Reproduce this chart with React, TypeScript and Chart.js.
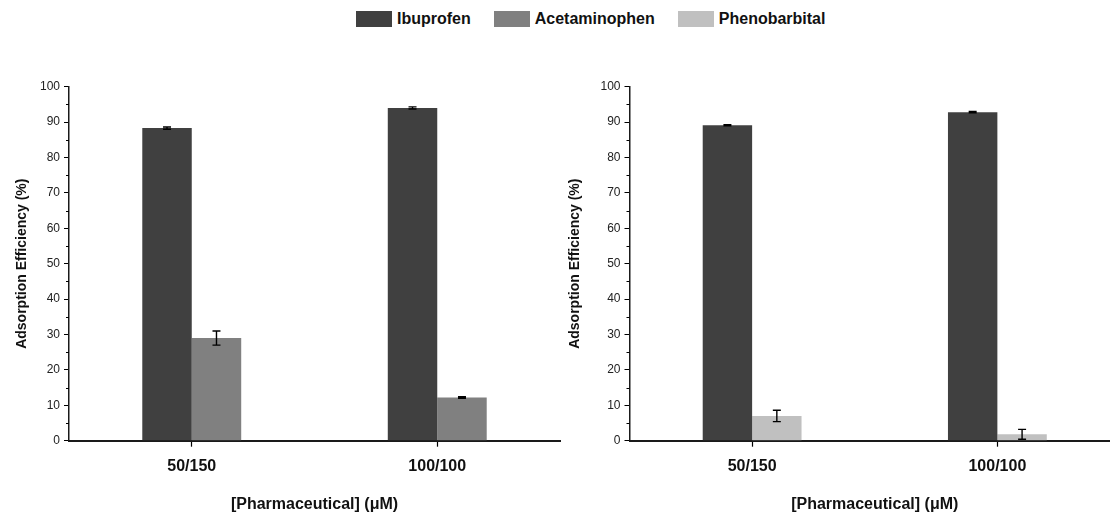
import React, { useEffect, useRef } from 'react';
import { Chart, registerables } from 'chart.js';

Chart.register(...registerables);

// ---------- data ----------
const categories = ['50/150', '100/100'];

const ibuprofenLeft = [88.3, 94.0];
const ibuprofenLeftErr = [0.3, 0.3];
const acetaminophen = [29.0, 12.2];
const acetaminophenErr = [2.0, 0.2];

const ibuprofenRight = [89.1, 92.8];
const ibuprofenRightErr = [0.15, 0.2];
const phenobarbital = [7.0, 1.8];
const phenobarbitalErr = [1.6, 1.4];

const seriesNames = ['Ibuprofen', 'Acetaminophen', 'Phenobarbital'];
const seriesColors = ['#404040', '#808080', '#c0c0c0'];

const yMin = 0;
const yMax = 100;
const yStep = 10;

const yTitle = 'Adsorption Efficiency (%)';
const xTitle = '[Pharmaceutical] (\u03BCM)';

const FONT = '"Liberation Sans", Arial, Helvetica, sans-serif';

// ---------- plugins ----------
const errorBarPlugin = {
  id: 'errorBars',
  afterDatasetsDraw(chart: any) {
    const ctx = chart.ctx;
    const y = chart.scales.y;
    chart.data.datasets.forEach((ds: any, i: number) => {
      const meta = chart.getDatasetMeta(i);
      const errs: number[] = ds.errors || [];
      meta.data.forEach((bar: any, j: number) => {
        const v = ds.data[j];
        const e = errs[j];
        if (v == null || e == null) return;
        const top = y.getPixelForValue(v + e);
        const bot = y.getPixelForValue(v - e);
        const cap = 4;
        ctx.save();
        ctx.strokeStyle = '#000';
        ctx.lineWidth = 1.4;
        ctx.beginPath();
        ctx.moveTo(bar.x, top);
        ctx.lineTo(bar.x, bot);
        ctx.moveTo(bar.x - cap, top);
        ctx.lineTo(bar.x + cap, top);
        ctx.moveTo(bar.x - cap, bot);
        ctx.lineTo(bar.x + cap, bot);
        ctx.stroke();
        ctx.restore();
      });
    });
  },
};

const minorTickPlugin = {
  id: 'minorTicks',
  afterDraw(chart: any) {
    const ctx = chart.ctx;
    const y = chart.scales.y;
    ctx.save();
    ctx.strokeStyle = '#000';
    ctx.lineWidth = 1;
    ctx.beginPath();
    for (let v = yMin + yStep / 2; v < yMax; v += yStep) {
      const py = Math.round(y.getPixelForValue(v)) + 0.5;
      ctx.moveTo(y.right - 3, py);
      ctx.lineTo(y.right, py);
    }
    ctx.stroke();
    ctx.restore();
  },
};

// ---------- panel ----------
type PanelProps = {
  left: number;
  yAxisWidth: number;
  yTitlePad: number;
  datasets: any[];
};

function Panel({ left, yAxisWidth, yTitlePad, datasets }: PanelProps) {
  const ref = useRef<HTMLCanvasElement | null>(null);

  useEffect(() => {
    if (!ref.current) return;
    const chart = new Chart(ref.current, {
      type: 'bar',
      data: { labels: categories, datasets },
      plugins: [errorBarPlugin, minorTickPlugin],
      options: {
        responsive: false,
        animation: false,
        layout: { padding: { top: 86.7, right: 20, bottom: 0, left: 0 } },
        datasets: {
          bar: { categoryPercentage: 0.403, barPercentage: 1.0 },
        },
        plugins: {
          legend: { display: false },
          tooltip: { enabled: false },
        },
        scales: {
          x: {
            offset: true,
            grid: {
              offset: false,
              display: true,
              drawOnChartArea: false,
              drawTicks: true,
              tickLength: 6,
              tickColor: '#000',
              tickWidth: 1.2,
            },
            border: { display: true, color: '#1a1a1a', width: 2 },
            ticks: {
              color: '#111',
              font: { family: FONT, size: 16, weight: 'bold' },
              padding: 10,
            },
            title: {
              display: true,
              text: xTitle,
              color: '#111',
              font: { family: FONT, size: 16, weight: 'bold' },
              padding: { top: 0, bottom: -1 },
            },
            afterFit: (s: any) => {
              s.height = 72.3;
            },
          },
          y: {
            min: yMin,
            max: yMax,
            ticks: {
              stepSize: yStep,
              color: '#222',
              font: { family: FONT, size: 12 },
              padding: 4,
            },
            grid: {
              display: true,
              drawOnChartArea: false,
              drawTicks: true,
              tickLength: 5,
              tickColor: '#000',
              tickWidth: 1,
            },
            border: { display: true, color: '#1a1a1a', width: 1.5 },
            title: {
              display: true,
              text: yTitle,
              color: '#111',
              font: { family: FONT, size: 14, weight: 'bold' },
              padding: { top: yTitlePad, bottom: 0 },
            },
            afterFit: (s: any) => {
              s.width = yAxisWidth;
            },
          },
        },
      } as any,
    });
    return () => chart.destroy();
  }, []);

  return (
    <div style={{ position: 'absolute', left, top: 0, width: 580, height: 513 }}>
      <canvas ref={ref} width={580} height={513} style={{ display: 'block' }} />
    </div>
  );
}

const leftDatasets = [
  {
    label: seriesNames[0],
    data: ibuprofenLeft,
    errors: ibuprofenLeftErr,
    backgroundColor: seriesColors[0],
  },
  {
    label: seriesNames[1],
    data: acetaminophen,
    errors: acetaminophenErr,
    backgroundColor: seriesColors[1],
  },
];

const rightDatasets = [
  {
    label: seriesNames[0],
    data: ibuprofenRight,
    errors: ibuprofenRightErr,
    backgroundColor: seriesColors[0],
  },
  {
    label: seriesNames[2],
    data: phenobarbital,
    errors: phenobarbitalErr,
    backgroundColor: seriesColors[2],
  },
];

function Legend() {
  return (
    <div
      style={{
        position: 'absolute',
        left: 356,
        top: 10,
        height: 18,
        display: 'flex',
        alignItems: 'center',
        fontFamily: FONT,
        fontWeight: 'bold',
        fontSize: 16,
        color: '#111',
        whiteSpace: 'nowrap',
      }}
    >
      {seriesNames.map((name, i) => (
        <div key={name} style={{ display: 'flex', alignItems: 'center', marginRight: i < seriesNames.length - 1 ? 23 : 0 }}>
          <div style={{ width: 36, height: 16, background: seriesColors[i], marginRight: 5 }} />
          <span>{name}</span>
        </div>
      ))}
    </div>
  );
}

export default function App() {
  return (
    <div
      style={{
        position: 'fixed',
        left: 0,
        top: 0,
        width: 1110,
        height: 513,
        overflow: 'hidden',
        background: '#fff',
      }}
    >
      <Legend />
      <Panel left={0} yAxisWidth={69} yTitlePad={13.3} datasets={leftDatasets} />
      <Panel left={560} yAxisWidth={69.5} yTitlePad={6.6} datasets={rightDatasets} />
    </div>
  );
}
